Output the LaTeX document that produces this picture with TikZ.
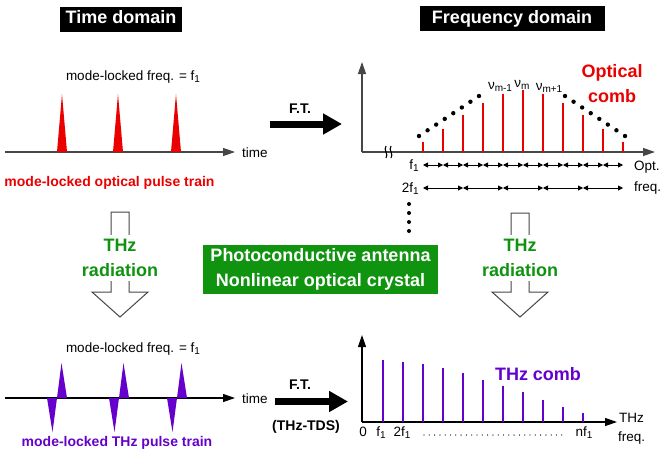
\documentclass[tikz,border=0pt]{standalone}
\usepackage{fontspec}
\setmainfont{Liberation Sans}
\usetikzlibrary{arrows.meta}
\definecolor{combred}{RGB}{235,0,0}
\definecolor{thzviolet}{RGB}{102,0,204}
\definecolor{boxgreen}{RGB}{16,148,16}
\definecolor{axisgray}{RGB}{70,70,70}
\newcommand{\hdfont}{\fontsize{18}{25}\selectfont\bfseries}
\newcommand{\capfont}{\fontsize{14}{16}\selectfont\bfseries}
\newcommand{\txtfont}{\fontsize{13.5}{15}\selectfont}
\newcommand{\lowidx}[1]{\raisebox{-0.35ex}{\fontsize{10}{10}\selectfont #1}}
\newcommand{\fone}{f\lowidx{1}}
\tikzset{
  header/.style={fill=black,text=white,font=\hdfont,text height=13pt,text depth=4pt,inner ysep=4pt},
  txt/.style={font=\txtfont,inner sep=0pt},
  boldtxt/.style={font=\capfont,inner sep=0pt},
  axis/.style={line width=1.2pt,-{Triangle[length=12pt,width=8pt]}},
  ftarrow/.style={line width=7pt,-{Triangle[length=19pt,width=20pt]}},
  dblarrow/.style={line width=0.9pt,{Triangle[length=5pt,width=5pt]}-{Triangle[length=5pt,width=5pt]}},
  hollow/.style={draw=axisgray,line width=1pt,fill=white},
}
\begin{document}
\begin{tikzpicture}[x=1pt,y=-1pt]
\useasboundingbox (0,0) rectangle (663,456);

% titles
\node[header,minimum width=122pt] (tdom) at (121,19) {Time domain};
\node[header,minimum width=185pt] (fdom) at (512,18.5) {Frequency domain};

% optical pulse train
\coordinate (ta) at (5,152);
\coordinate (tb) at (235,152);
\draw[axis,axisgray] (ta) -- (tb);
\node[txt,anchor=base west] (time1) at (242,157) {time};
\foreach \c in {62,118,176}
  \fill[combred] (\c-5,152) -- (\c,94) -- (\c+5,152) -- cycle;
\node[txt,anchor=base] (mlf1) at (133,80) {mode-locked freq. = \fone};
\node[boldtxt,combred,anchor=base] (optpt) at (109.5,186) {mode-locked optical pulse train};

% F.T. (top)
\coordinate (fta) at (270,124);
\coordinate (ftb) at (342,124);
\draw[ftarrow] (fta) -- (ftb);
\node[boldtxt,anchor=base] (ft1) at (300,113) {F.T.};

% optical comb
\coordinate (oo) at (362,152);
\coordinate (oy) at (362,62);
\coordinate (ox) at (655,152);
\draw[axis,axisgray] (oo) -- (oy);
\draw[axis,axisgray] (oo) -- (ox);
\foreach \i/\h in {0/142,1/129,2/115,3/103,4/94,5/90,6/94,7/103,8/115,9/129,10/142}
  \draw[combred,line width=1.8pt] (423+20*\i,152) -- (423+20*\i,\h);
\foreach \k in {0,...,7} {
  \fill (419+8.57*\k,136-5.71*\k) circle (2.2pt);
  \fill (625-8.57*\k,136-5.71*\k) circle (2.2pt);
}
\node[txt,anchor=base] (num1) at (500,89) {ν\lowidx{m-1}};
\node[txt,anchor=base] (num) at (522,87) {ν\lowidx{m}};
\node[txt,anchor=base] (nup1) at (549,90) {ν\lowidx{m+1}};
\node[font=\hdfont,combred,align=center,inner sep=0pt] (optcomb) at (612,84) {Optical\\comb};
% axis break
\foreach \s in {386,391}
  \draw[line width=1.1pt] (\s,146) .. controls (\s-3,150) and (\s+3,154) .. (\s,158);

% mode spacing
\foreach \i in {0,...,9}
  \draw[dblarrow] (423+20*\i,165) -- (443+20*\i,165);
\foreach \i in {0,...,4}
  \draw[dblarrow] (423+40*\i,188) -- (463+40*\i,188);
\node[txt,anchor=base east] (f1row) at (419,169) {\fone};
\node[txt,anchor=base east] (f2row) at (419,192) {2\fone};
\node[txt,anchor=base west] (optx) at (634,170) {Opt.};
\node[txt,anchor=base west] (freqx) at (634,191) {freq.};
\foreach \y in {204,213,222,231}
  \fill (409,\y) circle (2pt);

% THz radiation arrows
\draw[hollow] (111,212) -- (129,212) -- (129,292) -- (148,292) -- (120,317)
  -- (92,292) -- (111,292) -- cycle;
\node[font=\hdfont,boxgreen,align=center,fill=white,inner xsep=2pt,inner ysep=4pt] (radl) at (120,258) {THz\\radiation};
\draw[hollow] (511,213) -- (529,213) -- (529,292) -- (548,292) -- (520,317)
  -- (492,292) -- (511,292) -- cycle;
\node[font=\hdfont,boxgreen,align=center,fill=white,inner xsep=2pt,inner ysep=4pt] (radr) at (520,258) {THz\\radiation};

% emitter
\node[font=\hdfont,text=white,fill=boxgreen,align=center,minimum width=235pt,minimum height=49pt,inner sep=0pt] (pca) at (320.5,269) {Photoconductive antenna\\Nonlinear optical crystal};

% THz pulse train
\coordinate (tc) at (5,398);
\coordinate (td) at (235,398);
\draw[axis,black] (tc) -- (td);
\node[txt,anchor=base west] (time2) at (242,403) {time};
\foreach \c in {57,119,177} {
  \fill[thzviolet] (\c-10,398) -- (\c-4.5,432) -- (\c,398) -- cycle;
  \fill[thzviolet] (\c,398) -- (\c+4.5,363) -- (\c+10,398) -- cycle;
}
\node[txt,anchor=base] (mlf2) at (133,352) {mode-locked freq. = \fone};
\node[boldtxt,thzviolet,anchor=base] (thzpt) at (117,446) {mode-locked THz pulse train};

% F.T. (bottom)
\coordinate (ftc) at (275,401.5);
\coordinate (ftd) at (348,401.5);
\draw[ftarrow] (ftc) -- (ftd);
\node[boldtxt,anchor=base] (ft2) at (300,389) {F.T.};
\node[boldtxt,anchor=base] (tds) at (306,430) {(THz-TDS)};

% THz comb
\coordinate (po) at (362,422);
\coordinate (py) at (362,335);
\coordinate (px) at (617,422);
\draw[axis,black] (po) -- (py);
\draw[axis,black] (po) -- (px);
\foreach \i/\h in {0/360,1/362,2/364,3/368,4/373,5/380,6/386,7/392,8/400,9/407,10/413}
  \draw[thzviolet,line width=2pt] (383+20*\i,422) -- (383+20*\i,\h);
\node[font=\hdfont,thzviolet,anchor=base,inner sep=0pt] (thzcomb) at (538,380) {THz comb};
\node[txt,anchor=base west] (thzx) at (619,422) {THz};
\node[txt,anchor=base west] (freqy) at (618,441) {freq.};
\node[txt,anchor=base] (zero) at (363,436) {0};
\node[txt,anchor=base] (f1b) at (381,436) {\fone};
\node[txt,anchor=base] (f2b) at (402,436) {2\fone};
\node[txt,anchor=base] (nf1) at (584,436) {n\fone};
\draw[line width=1.3pt,line cap=round,dash pattern=on 0pt off 5.3pt] (424,435) -- (565,435);
\end{tikzpicture}
\end{document}
